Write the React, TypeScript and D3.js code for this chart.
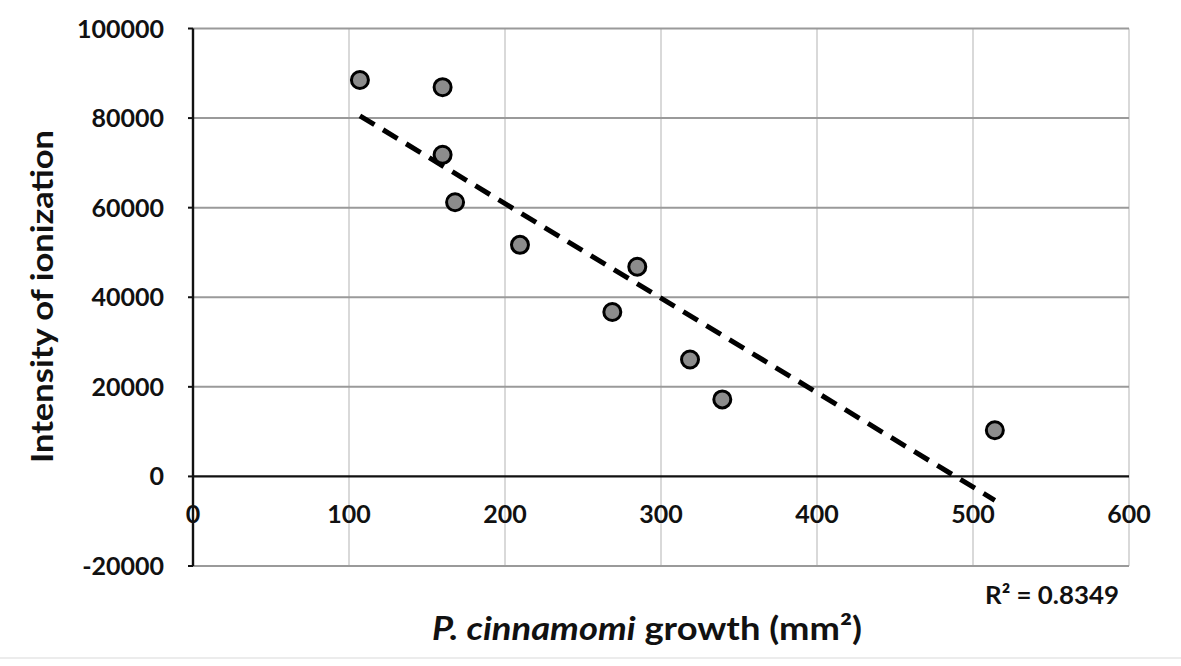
import React from "react";
import * as d3 from "d3";

const growth = [107, 160, 160, 168, 209.6, 268.8, 284.8, 318.6, 339.3, 514];
const intensity = [88500, 86900, 71800, 61200, 51700, 36700, 46800, 26100, 17200, 10300];
const xTicks = [0, 100, 200, 300, 400, 500, 600];
const yTicks = [-20000, 0, 20000, 40000, 60000, 80000, 100000];
const r2Label = "R² = 0.8349";

const W = 1181;
const H = 666;
const FONT = "Lato, 'Open Sans', sans-serif";

export default function App() {
  const x = d3.scaleLinear().domain([0, 600]).range([193, 1129]);
  const y = d3.scaleLinear().domain([-20000, 100000]).range([566, 28.5]);

  // least squares trendline
  const n = growth.length;
  const mx = d3.mean(growth) as number;
  const my = d3.mean(intensity) as number;
  let sxy = 0;
  let sxx = 0;
  for (let i = 0; i < n; i++) {
    sxy += (growth[i] - mx) * (intensity[i] - my);
    sxx += (growth[i] - mx) * (growth[i] - mx);
  }
  const slope = sxy / sxx;
  const icpt = my - slope * mx;
  const x0 = d3.min(growth) as number;
  const x1 = d3.max(growth) as number;
  const line = d3
    .line<number>()
    .x((d) => x(d))
    .y((d) => y(icpt + slope * d));

  return (
    <div>
      <style>{"body{margin:0}"}</style>
      <svg width={W} height={H} style={{ display: "block", background: "#fff" }}>
        {/* vertical gridlines */}
        {xTicks.slice(1).map((t) => (
          <line key={"vx" + t} x1={x(t)} x2={x(t)} y1={y(100000)} y2={y(-20000)} stroke="#d9d9d9" strokeWidth={2} />
        ))}
        {/* horizontal gridlines */}
        {yTicks.filter((t) => t !== 0).map((t) => (
          <line key={"hy" + t} x1={x(0)} x2={x(600)} y1={y(t)} y2={y(t)} stroke="#9a9a9a" strokeWidth={2} />
        ))}
        {/* zero axis */}
        <line x1={x(0)} x2={x(600)} y1={y(0)} y2={y(0)} stroke="#111" strokeWidth={2.4} />
        {/* left axis */}
        <line x1={x(0)} x2={x(0)} y1={y(100000)} y2={y(-20000)} stroke="#111" strokeWidth={2.4} />
        {yTicks.map((t) => (
          <line key={"ty" + t} x1={x(0) - 5} x2={x(0)} y1={y(t)} y2={y(t)} stroke="#111" strokeWidth={2} />
        ))}

        {/* trendline */}
        <path d={line([x0, x1]) as string} fill="none" stroke="#000" strokeWidth={5} strokeDasharray="17 10" />

        {/* points */}
        {growth.map((g, i) => (
          <circle key={"p" + i} cx={x(g)} cy={y(intensity[i])} r={8.5} fill="#8c8c8c" stroke="#000" strokeWidth={3} />
        ))}

        {/* y tick labels */}
        {yTicks.map((t) => (
          <text key={"ly" + t} x={164} y={y(t)} dy="0.36em" textAnchor="end" fontFamily={FONT} fontWeight={700} fontSize={25} fill="#111">
            {String(t)}
          </text>
        ))}
        {/* x tick labels */}
        {xTicks.map((t) => (
          <text key={"lx" + t} x={x(t)} y={y(0) + 38} dy="0.36em" textAnchor="middle" fontFamily={FONT} fontWeight={700} fontSize={25} fill="#111">
            {String(t)}
          </text>
        ))}

        {/* y axis title */}
        <text
          transform={`translate(53, 296.5) rotate(-90)`}
          textAnchor="middle"
          fontFamily={FONT}
          fontWeight={700}
          fontSize={31}
          fill="#111"
          textLength={333}
          lengthAdjust="spacingAndGlyphs"
        >
          Intensity of ionization
        </text>

        {/* x axis title */}
        <text x={432} y={640} fontFamily={FONT} fontWeight={700} fontSize={33} fill="#111" textLength={430} lengthAdjust="spacingAndGlyphs">
          <tspan fontStyle="italic">P. cinnamomi</tspan>
          <tspan> growth (mm²)</tspan>
        </text>

        {/* R² */}
        <text x={985} y={604} fontFamily={FONT} fontWeight={700} fontSize={25} fill="#111" textLength={134} lengthAdjust="spacingAndGlyphs">
          {r2Label}
        </text>

        {/* faint frame line */}
        <line x1={0} x2={W} y1={658} y2={658} stroke="#e6e6e6" strokeWidth={1.5} />
      </svg>
    </div>
  );
}
